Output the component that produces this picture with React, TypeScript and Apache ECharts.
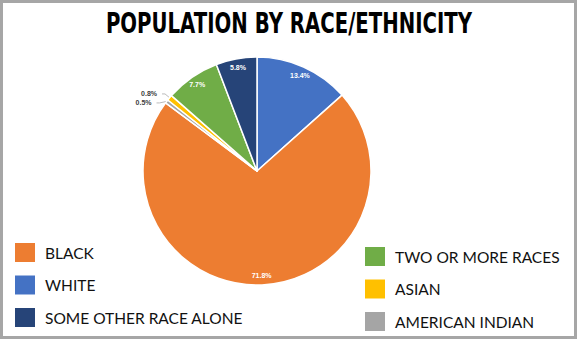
import React, { useEffect, useRef } from "react";
import * as echarts from "echarts";

const categories = ["WHITE", "BLACK", "AMERICAN INDIAN", "ASIAN", "TWO OR MORE RACES", "SOME OTHER RACE ALONE"];
const values = [13.4, 71.8, 0.5, 0.8, 7.7, 5.8];
const colors = ["#4472C4", "#ED7D31", "#A5A5A5", "#FFC000", "#70AD47", "#264478"];
const leftLegend = ["BLACK", "WHITE", "SOME OTHER RACE ALONE"];
const rightLegend = ["TWO OR MORE RACES", "ASIAN", "AMERICAN INDIAN"];
const title = "POPULATION BY RACE/ETHNICITY";

export default function App() {
  const ref = useRef<HTMLDivElement>(null);
  useEffect(() => {
    const chart = echarts.init(ref.current!, null, { renderer: "svg" });
    const small = (v: number) => v < 2;
    const data = categories.map((name, i) => ({
      name,
      value: values[i],
      itemStyle: { color: colors[i] },
      label: { show: small(values[i]), color: "#404040" },
      labelLine: { show: small(values[i]) },
    }));
    const legendText = { color: "#111", fontSize: 15.5, fontFamily: "Lato", padding: [0, 0, 0, 4] };
    chart.setOption({
      animation: false,
      backgroundColor: "#fff",
      graphic: [
        {
          type: "rect",
          shape: { x: 1.5, y: 1.5, width: 574, height: 336 },
          style: { fill: "none", stroke: "#a6a6a6", lineWidth: 3 },
          z: 100,
        },
        {
          type: "text",
          x: 289,
          y: 23,
          scaleX: 0.68,
          style: {
            text: title,
            fill: "#000",
            font: 'bold 29px "DejaVu Sans", sans-serif',
            align: "center",
            verticalAlign: "middle",
          },
        },
      ],
      legend: [
        {
          data: leftLegend,
          orient: "vertical",
          left: 8,
          top: 236,
          height: 110,
          icon: "rect",
          itemWidth: 22,
          itemHeight: 21,
          itemGap: 9.5,
          textStyle: legendText,
          selectedMode: false,
        },
        {
          data: rightLegend,
          orient: "vertical",
          left: 358,
          top: 240,
          height: 110,
          icon: "rect",
          itemWidth: 22,
          itemHeight: 21,
          itemGap: 9.5,
          textStyle: legendText,
          selectedMode: false,
        },
      ],
      series: [
        {
          type: "pie",
          center: [257, 171],
          radius: [0, 114],
          startAngle: 90,
          clockwise: true,
          data,
          itemStyle: { borderColor: "#fff", borderWidth: 1.5 },
          label: {
            position: "outside",
            formatter: (p: any) => p.value.toFixed(1) + "%",
            fontSize: 7,
            fontWeight: "bold",
            color: "#404040",
            fontFamily: "Liberation Sans",
          },
          labelLine: {
            length: 6,
            length2: 3,
            lineStyle: { color: "#bbb", width: 1 },
          },
          emphasis: { disabled: true },
        },
        {
          type: "pie",
          center: [257, 171],
          radius: [90, 114],
          startAngle: 90,
          clockwise: true,
          silent: true,
          data: categories.map((name, i) => ({ name: name + "_lbl", value: values[i], label: { show: !small(values[i]) } })),
          itemStyle: { color: "rgba(0,0,0,0)" },
          label: {
            position: "inside",
            formatter: (p: any) => p.value.toFixed(1) + "%",
            fontSize: 7,
            fontWeight: "bold",
            color: "#fff",
            fontFamily: "Liberation Sans",
          },
          labelLine: { show: false },
          emphasis: { disabled: true },
        },
      ],
    });
    return () => chart.dispose();
  }, []);
  return <div ref={ref} style={{ position: "fixed", left: 0, top: 0, width: 577, height: 339 }} />;
}
